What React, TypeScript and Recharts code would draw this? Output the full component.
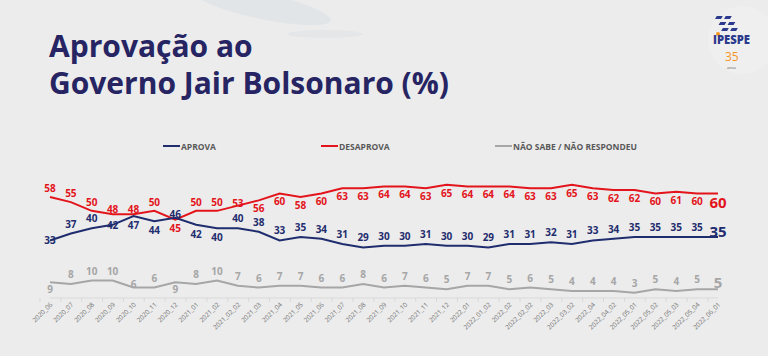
import { LineChart, Line, XAxis, YAxis, LabelList } from 'recharts';

const months = [
  '2020_06', '2020_07', '2020_08', '2020_09', '2020_10', '2020_11', '2020_12',
  '2021_01', '2021_02', '2021_02_02', '2021_03', '2021_04', '2021_05', '2021_06',
  '2021_07', '2021_08', '2021_09', '2021_10', '2021_11', '2021_12', '2022_01',
  '2022_01_02', '2022_02', '2022_02_02', '2022_03', '2022_03_02', '2022_04',
  '2022_04_02', '2022_05_01', '2022_05_02', '2022_05_03', '2022_05_04', '2022_06_01',
];
const aprova = [33, 37, 40, 42, 47, 44, 46, 42, 40, 40, 38, 33, 35, 34, 31, 29, 30, 30, 31, 30, 30, 29, 31, 31, 32, 31, 33, 34, 35, 35, 35, 35, 35];
const desaprova = [58, 55, 50, 48, 48, 50, 45, 50, 50, 53, 56, 60, 58, 60, 63, 63, 64, 64, 63, 65, 64, 64, 64, 63, 63, 65, 63, 62, 62, 60, 61, 60, 60];
const naoSabe = [9, 8, 10, 10, 6, 6, 9, 8, 10, 7, 6, 7, 7, 6, 6, 8, 6, 7, 6, 5, 7, 7, 5, 6, 5, 4, 4, 4, 3, 5, 4, 5, 5];

const data = months.map((m, i) => ({
  month: m,
  aprova: aprova[i],
  desaprova: desaprova[i],
  naoSabe: naoSabe[i],
}));

const BLUE = '#1f2d6e';
const RED = '#e3141b';
const GRAY = '#a6a6a6';
const FONT = "'Open Sans', sans-serif";
const last = months.length - 1;

// label placement, roughly as in the original slide
const blueDy = (i: number) =>
  i === last ? -6 : i === 0 ? 0 : [4, 5, 7, 8].includes(i) ? 9 : i === 3 ? 0 : i === 6 ? -4 : -10;
const redDy = (i: number) =>
  i === last ? 9 : i === 6 ? 8 : i >= 10 ? 8 : [3, 4].includes(i) ? -5 : i === 9 ? -3 : -9;
const grayDy = (i: number) => (i === last ? -7 : [0, 6].includes(i) ? 7 : i === 4 ? -4 : -10);

const makeLabel = (color: string, dyFor: (i: number) => number) => (props: any) => {
  const { x, y, value, index } = props;
  const isLast = index === last;
  return (
    <text
      x={x}
      y={y + dyFor(index)}
      textAnchor="middle"
      dominantBaseline="central"
      fill={color}
      fontSize={isLast ? 15 : 10}
      fontWeight={700}
      fontFamily={FONT}
    >
      {value}
    </text>
  );
};

const XTick = (props: any) => {
  const { x, y, payload } = props;
  return (
    <g transform={`translate(${x},${y})`}>
      <line x1={-10.1} x2={-10.1} y1={0} y2={4} stroke="#d9d9d9" />
      <text
        transform="translate(3,7) rotate(-45)"
        textAnchor="end"
        fontSize={6.5}
        fill="#737373"
        fontFamily={FONT}
      >
        {payload.value}
      </text>
    </g>
  );
};

const legendItems = [
  { label: 'APROVA', color: BLUE, x: 163 },
  { label: 'DESAPROVA', color: RED, x: 321 },
  { label: 'NÃO SABE / NÃO RESPONDEU', color: GRAY, x: 495 },
];

export default function App() {
  return (
    <div style={{ position: 'fixed', left: 0, top: 0, width: 768, height: 356, background: '#ececec', overflow: 'hidden' }}>
      <svg width={768} height={356} style={{ position: 'absolute', left: 0, top: 0 }}>
        {/* faint background swooshes */}
        <ellipse cx={262} cy={6} rx={70} ry={13} fill="#e2e5e7" transform="rotate(12 262 6)" />
        <ellipse cx={325} cy={34} rx={38} ry={4} fill="#e4e6e8" />
        <circle cx={742} cy={40} r={34} fill="#efefef" />
        <text x={49} y={57} fontFamily={FONT} fontWeight={700} fontSize={30} fill="#262462">Aprovação ao</text>
        <text x={49} y={94} fontFamily={FONT} fontWeight={700} fontSize={30} fill="#262462">Governo Jair Bolsonaro (%)</text>
        {/* logo */}
        <g fill="#2b3a8c">
          <rect x={726} y={16} width={6} height={3} transform="skewX(-30)" />
          <rect x={735} y={16} width={6} height={3} transform="skewX(-30)" />
          <rect x={733} y={22} width={6} height={3} transform="skewX(-30)" />
          <rect x={742} y={22} width={6} height={3} transform="skewX(-30)" />
          <rect x={739} y={28} width={6} height={3} transform="skewX(-30)" />
          <rect x={748} y={28} width={6} height={3} transform="skewX(-30)" />
        </g>
        <circle cx={718} cy={34} r={2} fill="#f7941d" />
        <text x={713} y={44} fontFamily={FONT} fontWeight={800} fontSize={12} fill="#2b3a8c" textLength={37} lengthAdjust="spacingAndGlyphs">IPESPE</text>
        <text x={725} y={61} fontFamily={FONT} fontWeight={400} fontSize={12} fill="#f7941d">35</text>
        <text x={727} y={69} fontFamily={FONT} fontSize={4} fill="#555">anos</text>
        {legendItems.map((it) => (
          <g key={it.label}>
            <line x1={it.x} x2={it.x + 17} y1={146} y2={146} stroke={it.color} strokeWidth={2} />
            <text x={it.x + 18} y={149.5} fontFamily={FONT} fontWeight={700} fontSize={8.5} fill="#595959">{it.label}</text>
          </g>
        ))}
      </svg>
      <div style={{ position: 'absolute', left: 0, top: 0 }}>
        <LineChart width={768} height={356} data={data} margin={{ top: 176, right: 50, bottom: 18, left: 50 }}>
          <XAxis
            dataKey="month"
            interval={0}
            height={40}
            tickSize={0}
            tickMargin={0}
            tickLine={false}
            axisLine={{ stroke: '#d9d9d9' }}
            tick={<XTick />}
          />
          <YAxis hide domain={[0, 70]} />
          <Line dataKey="desaprova" stroke={RED} strokeWidth={2} dot={false} isAnimationActive={false}>
            <LabelList dataKey="desaprova" content={makeLabel(RED, redDy)} />
          </Line>
          <Line dataKey="aprova" stroke={BLUE} strokeWidth={2} dot={false} isAnimationActive={false}>
            <LabelList dataKey="aprova" content={makeLabel(BLUE, blueDy)} />
          </Line>
          <Line dataKey="naoSabe" stroke={GRAY} strokeWidth={2} dot={false} isAnimationActive={false}>
            <LabelList dataKey="naoSabe" content={makeLabel(GRAY, grayDy)} />
          </Line>
        </LineChart>
      </div>
    </div>
  );
}
